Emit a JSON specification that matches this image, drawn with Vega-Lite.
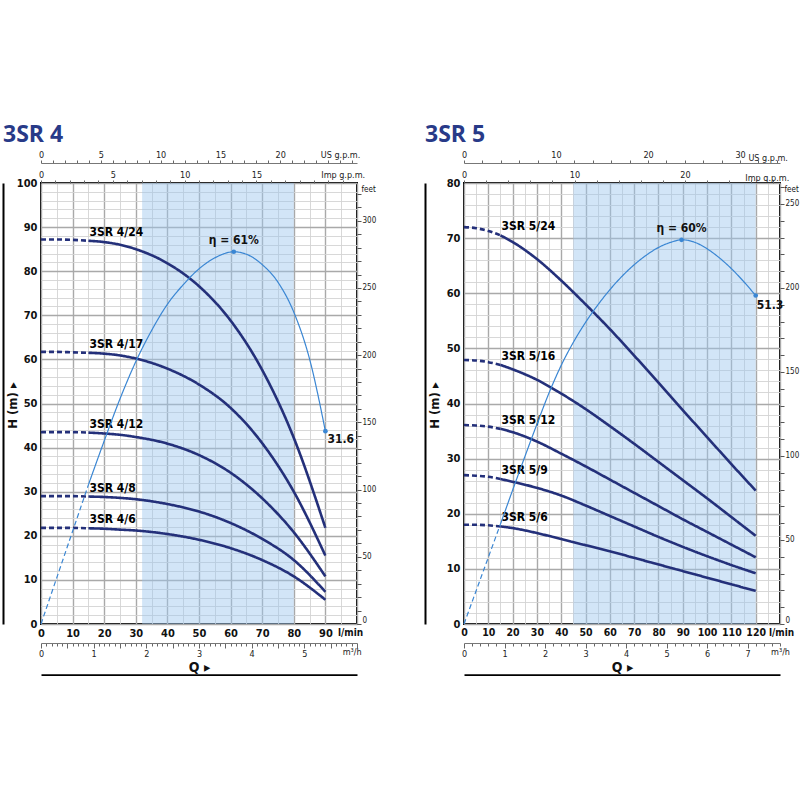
{
  "$schema": "https://vega.github.io/schema/vega-lite/v6.json",
  "padding": {"left": 2, "top": 123, "right": 0, "bottom": 0},
  "spacing": 47,
  "config": {
    "font": "DejaVu Sans Condensed, Liberation Sans, sans-serif",
    "view": {"stroke": "#000", "strokeWidth": 2},
    "axis": {"labelColor": "#111", "titleColor": "#111"}
  },
  "datasets": {
    "pumps4": [
      {"pump": "3SR 4/24", "seg": "dashed", "Q": 0, "H": 87.2},
      {"pump": "3SR 4/24", "seg": "dashed", "Q": 5, "H": 87.2},
      {"pump": "3SR 4/24", "seg": "dashed", "Q": 10, "H": 87.1},
      {"pump": "3SR 4/24", "seg": "dashed", "Q": 15, "H": 86.9},
      {"pump": "3SR 4/24", "seg": "solid", "Q": 15, "H": 86.9},
      {"pump": "3SR 4/24", "seg": "solid", "Q": 20, "H": 86.6},
      {"pump": "3SR 4/24", "seg": "solid", "Q": 25, "H": 86.0},
      {"pump": "3SR 4/24", "seg": "solid", "Q": 30, "H": 85.0},
      {"pump": "3SR 4/24", "seg": "solid", "Q": 40, "H": 81.8},
      {"pump": "3SR 4/24", "seg": "solid", "Q": 50, "H": 76.6},
      {"pump": "3SR 4/24", "seg": "solid", "Q": 60, "H": 68.8},
      {"pump": "3SR 4/24", "seg": "solid", "Q": 70, "H": 57.6},
      {"pump": "3SR 4/24", "seg": "solid", "Q": 80, "H": 42.2},
      {"pump": "3SR 4/24", "seg": "solid", "Q": 90, "H": 21.8},
      {"pump": "3SR 4/17", "seg": "dashed", "Q": 0, "H": 61.7},
      {"pump": "3SR 4/17", "seg": "dashed", "Q": 5, "H": 61.7},
      {"pump": "3SR 4/17", "seg": "dashed", "Q": 10, "H": 61.6},
      {"pump": "3SR 4/17", "seg": "dashed", "Q": 15, "H": 61.5},
      {"pump": "3SR 4/17", "seg": "solid", "Q": 15, "H": 61.5},
      {"pump": "3SR 4/17", "seg": "solid", "Q": 20, "H": 61.3},
      {"pump": "3SR 4/17", "seg": "solid", "Q": 25, "H": 60.9},
      {"pump": "3SR 4/17", "seg": "solid", "Q": 30, "H": 60.2},
      {"pump": "3SR 4/17", "seg": "solid", "Q": 40, "H": 57.9},
      {"pump": "3SR 4/17", "seg": "solid", "Q": 50, "H": 54.3},
      {"pump": "3SR 4/17", "seg": "solid", "Q": 60, "H": 49.0},
      {"pump": "3SR 4/17", "seg": "solid", "Q": 70, "H": 41.0},
      {"pump": "3SR 4/17", "seg": "solid", "Q": 80, "H": 30.0},
      {"pump": "3SR 4/17", "seg": "solid", "Q": 90, "H": 15.5},
      {"pump": "3SR 4/12", "seg": "dashed", "Q": 0, "H": 43.5},
      {"pump": "3SR 4/12", "seg": "dashed", "Q": 5, "H": 43.5},
      {"pump": "3SR 4/12", "seg": "dashed", "Q": 10, "H": 43.5},
      {"pump": "3SR 4/12", "seg": "dashed", "Q": 15, "H": 43.4},
      {"pump": "3SR 4/12", "seg": "solid", "Q": 15, "H": 43.4},
      {"pump": "3SR 4/12", "seg": "solid", "Q": 20, "H": 43.2},
      {"pump": "3SR 4/12", "seg": "solid", "Q": 25, "H": 42.9},
      {"pump": "3SR 4/12", "seg": "solid", "Q": 30, "H": 42.4},
      {"pump": "3SR 4/12", "seg": "solid", "Q": 40, "H": 40.9},
      {"pump": "3SR 4/12", "seg": "solid", "Q": 50, "H": 38.3},
      {"pump": "3SR 4/12", "seg": "solid", "Q": 60, "H": 34.3},
      {"pump": "3SR 4/12", "seg": "solid", "Q": 70, "H": 28.5},
      {"pump": "3SR 4/12", "seg": "solid", "Q": 80, "H": 20.8},
      {"pump": "3SR 4/12", "seg": "solid", "Q": 90, "H": 10.8},
      {"pump": "3SR 4/8", "seg": "dashed", "Q": 0, "H": 29.0},
      {"pump": "3SR 4/8", "seg": "dashed", "Q": 5, "H": 29.0},
      {"pump": "3SR 4/8", "seg": "dashed", "Q": 10, "H": 29.0},
      {"pump": "3SR 4/8", "seg": "dashed", "Q": 15, "H": 28.9},
      {"pump": "3SR 4/8", "seg": "solid", "Q": 15, "H": 28.9},
      {"pump": "3SR 4/8", "seg": "solid", "Q": 20, "H": 28.8},
      {"pump": "3SR 4/8", "seg": "solid", "Q": 25, "H": 28.6},
      {"pump": "3SR 4/8", "seg": "solid", "Q": 30, "H": 28.3},
      {"pump": "3SR 4/8", "seg": "solid", "Q": 40, "H": 27.2},
      {"pump": "3SR 4/8", "seg": "solid", "Q": 50, "H": 25.5},
      {"pump": "3SR 4/8", "seg": "solid", "Q": 60, "H": 22.9},
      {"pump": "3SR 4/8", "seg": "solid", "Q": 70, "H": 19.3},
      {"pump": "3SR 4/8", "seg": "solid", "Q": 80, "H": 14.5},
      {"pump": "3SR 4/8", "seg": "solid", "Q": 90, "H": 7.3},
      {"pump": "3SR 4/6", "seg": "dashed", "Q": 0, "H": 21.8},
      {"pump": "3SR 4/6", "seg": "dashed", "Q": 5, "H": 21.8},
      {"pump": "3SR 4/6", "seg": "dashed", "Q": 10, "H": 21.8},
      {"pump": "3SR 4/6", "seg": "dashed", "Q": 15, "H": 21.7},
      {"pump": "3SR 4/6", "seg": "solid", "Q": 15, "H": 21.7},
      {"pump": "3SR 4/6", "seg": "solid", "Q": 20, "H": 21.6},
      {"pump": "3SR 4/6", "seg": "solid", "Q": 25, "H": 21.4},
      {"pump": "3SR 4/6", "seg": "solid", "Q": 30, "H": 21.2},
      {"pump": "3SR 4/6", "seg": "solid", "Q": 40, "H": 20.4},
      {"pump": "3SR 4/6", "seg": "solid", "Q": 50, "H": 19.1},
      {"pump": "3SR 4/6", "seg": "solid", "Q": 60, "H": 17.2},
      {"pump": "3SR 4/6", "seg": "solid", "Q": 70, "H": 14.5},
      {"pump": "3SR 4/6", "seg": "solid", "Q": 80, "H": 10.8},
      {"pump": "3SR 4/6", "seg": "solid", "Q": 90, "H": 5.5}
    ],
    "eff4": [
      {"seg": "dashed", "Q": 0, "eta": 0},
      {"seg": "dashed", "Q": 5, "eta": 7.6},
      {"seg": "dashed", "Q": 10, "eta": 15.2},
      {"seg": "dashed", "Q": 15, "eta": 22.8},
      {"seg": "solid", "Q": 15, "eta": 22.8},
      {"seg": "solid", "Q": 20, "eta": 30.0},
      {"seg": "solid", "Q": 25, "eta": 36.9},
      {"seg": "solid", "Q": 30, "eta": 43.0},
      {"seg": "solid", "Q": 35, "eta": 48.1},
      {"seg": "solid", "Q": 40, "eta": 52.4},
      {"seg": "solid", "Q": 45, "eta": 55.6},
      {"seg": "solid", "Q": 50, "eta": 58.2},
      {"seg": "solid", "Q": 55, "eta": 60.0},
      {"seg": "solid", "Q": 61, "eta": 61.0, "note": "peak", "label": "η = 61%"},
      {"seg": "solid", "Q": 65, "eta": 60.6},
      {"seg": "solid", "Q": 70, "eta": 58.9},
      {"seg": "solid", "Q": 75, "eta": 56.0},
      {"seg": "solid", "Q": 80, "eta": 51.1},
      {"seg": "solid", "Q": 85, "eta": 43.4},
      {"seg": "solid", "Q": 90, "eta": 31.6, "note": "end", "label": "31.6"}
    ],
    "pumps5": [
      {"pump": "3SR 5/24", "seg": "dashed", "Q": 0, "H": 72.0},
      {"pump": "3SR 5/24", "seg": "dashed", "Q": 5, "H": 71.8},
      {"pump": "3SR 5/24", "seg": "dashed", "Q": 10, "H": 71.3},
      {"pump": "3SR 5/24", "seg": "dashed", "Q": 15, "H": 70.5},
      {"pump": "3SR 5/24", "seg": "solid", "Q": 15, "H": 70.5},
      {"pump": "3SR 5/24", "seg": "solid", "Q": 20, "H": 69.3},
      {"pump": "3SR 5/24", "seg": "solid", "Q": 30, "H": 66.2},
      {"pump": "3SR 5/24", "seg": "solid", "Q": 40, "H": 62.3},
      {"pump": "3SR 5/24", "seg": "solid", "Q": 50, "H": 58.0},
      {"pump": "3SR 5/24", "seg": "solid", "Q": 60, "H": 53.5},
      {"pump": "3SR 5/24", "seg": "solid", "Q": 70, "H": 48.7},
      {"pump": "3SR 5/24", "seg": "solid", "Q": 80, "H": 43.8},
      {"pump": "3SR 5/24", "seg": "solid", "Q": 90, "H": 38.8},
      {"pump": "3SR 5/24", "seg": "solid", "Q": 100, "H": 33.9},
      {"pump": "3SR 5/24", "seg": "solid", "Q": 110, "H": 29.0},
      {"pump": "3SR 5/24", "seg": "solid", "Q": 120, "H": 24.2},
      {"pump": "3SR 5/16", "seg": "dashed", "Q": 0, "H": 47.9},
      {"pump": "3SR 5/16", "seg": "dashed", "Q": 5, "H": 47.8},
      {"pump": "3SR 5/16", "seg": "dashed", "Q": 10, "H": 47.5},
      {"pump": "3SR 5/16", "seg": "dashed", "Q": 15, "H": 47.0},
      {"pump": "3SR 5/16", "seg": "solid", "Q": 15, "H": 47.0},
      {"pump": "3SR 5/16", "seg": "solid", "Q": 20, "H": 46.2},
      {"pump": "3SR 5/16", "seg": "solid", "Q": 30, "H": 44.3},
      {"pump": "3SR 5/16", "seg": "solid", "Q": 40, "H": 41.8},
      {"pump": "3SR 5/16", "seg": "solid", "Q": 50, "H": 39.0},
      {"pump": "3SR 5/16", "seg": "solid", "Q": 60, "H": 35.9},
      {"pump": "3SR 5/16", "seg": "solid", "Q": 70, "H": 32.7},
      {"pump": "3SR 5/16", "seg": "solid", "Q": 80, "H": 29.4},
      {"pump": "3SR 5/16", "seg": "solid", "Q": 90, "H": 26.1},
      {"pump": "3SR 5/16", "seg": "solid", "Q": 100, "H": 22.8},
      {"pump": "3SR 5/16", "seg": "solid", "Q": 110, "H": 19.4},
      {"pump": "3SR 5/16", "seg": "solid", "Q": 120, "H": 16.0},
      {"pump": "3SR 5/12", "seg": "dashed", "Q": 0, "H": 36.1},
      {"pump": "3SR 5/12", "seg": "dashed", "Q": 5, "H": 36.0},
      {"pump": "3SR 5/12", "seg": "dashed", "Q": 10, "H": 35.8},
      {"pump": "3SR 5/12", "seg": "dashed", "Q": 15, "H": 35.4},
      {"pump": "3SR 5/12", "seg": "solid", "Q": 15, "H": 35.4},
      {"pump": "3SR 5/12", "seg": "solid", "Q": 20, "H": 34.8},
      {"pump": "3SR 5/12", "seg": "solid", "Q": 30, "H": 33.1},
      {"pump": "3SR 5/12", "seg": "solid", "Q": 40, "H": 30.9},
      {"pump": "3SR 5/12", "seg": "solid", "Q": 50, "H": 28.6},
      {"pump": "3SR 5/12", "seg": "solid", "Q": 60, "H": 26.2},
      {"pump": "3SR 5/12", "seg": "solid", "Q": 70, "H": 23.8},
      {"pump": "3SR 5/12", "seg": "solid", "Q": 80, "H": 21.4},
      {"pump": "3SR 5/12", "seg": "solid", "Q": 90, "H": 19.0},
      {"pump": "3SR 5/12", "seg": "solid", "Q": 100, "H": 16.7},
      {"pump": "3SR 5/12", "seg": "solid", "Q": 110, "H": 14.4},
      {"pump": "3SR 5/12", "seg": "solid", "Q": 120, "H": 12.1},
      {"pump": "3SR 5/9", "seg": "dashed", "Q": 0, "H": 27.0},
      {"pump": "3SR 5/9", "seg": "dashed", "Q": 5, "H": 26.9},
      {"pump": "3SR 5/9", "seg": "dashed", "Q": 10, "H": 26.7},
      {"pump": "3SR 5/9", "seg": "dashed", "Q": 15, "H": 26.3},
      {"pump": "3SR 5/9", "seg": "solid", "Q": 15, "H": 26.3},
      {"pump": "3SR 5/9", "seg": "solid", "Q": 20, "H": 25.8},
      {"pump": "3SR 5/9", "seg": "solid", "Q": 30, "H": 24.7},
      {"pump": "3SR 5/9", "seg": "solid", "Q": 40, "H": 23.3},
      {"pump": "3SR 5/9", "seg": "solid", "Q": 50, "H": 21.5},
      {"pump": "3SR 5/9", "seg": "solid", "Q": 60, "H": 19.6},
      {"pump": "3SR 5/9", "seg": "solid", "Q": 70, "H": 17.7},
      {"pump": "3SR 5/9", "seg": "solid", "Q": 80, "H": 15.8},
      {"pump": "3SR 5/9", "seg": "solid", "Q": 90, "H": 14.0},
      {"pump": "3SR 5/9", "seg": "solid", "Q": 100, "H": 12.3},
      {"pump": "3SR 5/9", "seg": "solid", "Q": 110, "H": 10.7},
      {"pump": "3SR 5/9", "seg": "solid", "Q": 120, "H": 9.2},
      {"pump": "3SR 5/6", "seg": "dashed", "Q": 0, "H": 18.0},
      {"pump": "3SR 5/6", "seg": "dashed", "Q": 5, "H": 18.0},
      {"pump": "3SR 5/6", "seg": "dashed", "Q": 10, "H": 17.9},
      {"pump": "3SR 5/6", "seg": "dashed", "Q": 15, "H": 17.7},
      {"pump": "3SR 5/6", "seg": "solid", "Q": 15, "H": 17.7},
      {"pump": "3SR 5/6", "seg": "solid", "Q": 20, "H": 17.4},
      {"pump": "3SR 5/6", "seg": "solid", "Q": 30, "H": 16.5},
      {"pump": "3SR 5/6", "seg": "solid", "Q": 40, "H": 15.4},
      {"pump": "3SR 5/6", "seg": "solid", "Q": 50, "H": 14.3},
      {"pump": "3SR 5/6", "seg": "solid", "Q": 60, "H": 13.2},
      {"pump": "3SR 5/6", "seg": "solid", "Q": 70, "H": 12.0},
      {"pump": "3SR 5/6", "seg": "solid", "Q": 80, "H": 10.8},
      {"pump": "3SR 5/6", "seg": "solid", "Q": 90, "H": 9.6},
      {"pump": "3SR 5/6", "seg": "solid", "Q": 100, "H": 8.4},
      {"pump": "3SR 5/6", "seg": "solid", "Q": 110, "H": 7.2},
      {"pump": "3SR 5/6", "seg": "solid", "Q": 120, "H": 6.0}
    ],
    "eff5": [
      {"seg": "dashed", "Q": 0, "eta": 0},
      {"seg": "dashed", "Q": 5, "eta": 5.2},
      {"seg": "dashed", "Q": 10, "eta": 10.4},
      {"seg": "dashed", "Q": 15, "eta": 15.6},
      {"seg": "solid", "Q": 15, "eta": 15.6},
      {"seg": "solid", "Q": 20, "eta": 20.9},
      {"seg": "solid", "Q": 25, "eta": 26.1},
      {"seg": "solid", "Q": 30, "eta": 31.2},
      {"seg": "solid", "Q": 35, "eta": 36.1},
      {"seg": "solid", "Q": 40, "eta": 40.4},
      {"seg": "solid", "Q": 45, "eta": 44.0},
      {"seg": "solid", "Q": 50, "eta": 47.1},
      {"seg": "solid", "Q": 55, "eta": 49.8},
      {"seg": "solid", "Q": 60, "eta": 52.2},
      {"seg": "solid", "Q": 65, "eta": 54.3},
      {"seg": "solid", "Q": 70, "eta": 56.1},
      {"seg": "solid", "Q": 75, "eta": 57.6},
      {"seg": "solid", "Q": 80, "eta": 58.8},
      {"seg": "solid", "Q": 85, "eta": 59.6},
      {"seg": "solid", "Q": 89.5, "eta": 60.0, "note": "peak", "label": "η = 60%"},
      {"seg": "solid", "Q": 95, "eta": 59.6},
      {"seg": "solid", "Q": 100, "eta": 58.6},
      {"seg": "solid", "Q": 105, "eta": 57.2},
      {"seg": "solid", "Q": 110, "eta": 55.5},
      {"seg": "solid", "Q": 115, "eta": 53.5},
      {"seg": "solid", "Q": 120, "eta": 51.3, "note": "end", "label": "51.3"}
    ]
  },
  "hconcat": [
    {
      "title": {"text": "3SR 4", "anchor": "start", "frame": "bounds", "font": "Open Sans", "fontSize": 23, "fontWeight": "bold", "color": "#283a88", "offset": 3},
      "width": 316,
      "height": 441,
      "resolve": {"scale": {"x": "independent", "y": "independent"}},
      "layer": [
        {
          "mark": {"type": "point", "opacity": 0},
          "encoding": {
            "x": {
              "datum": 0, "type": "quantitative",
              "scale": {"domain": [0, 100], "nice": false, "zero": false},
              "axis": {
                "orient": "bottom", "title": null,
                "values": [0, 5, 10, 15, 20, 25, 30, 35, 40, 45, 50, 55, 60, 65, 70, 75, 80, 85, 90, 95, 100],
                "labelExpr": "datum.value % 10 == 0 ? (datum.value == 100 ? 'l/min' : datum.value + '') : ''",
                "grid": true,
                "gridColor": {"condition": {"test": "datum.value % 10 == 0", "value": "#a9a9a9"}, "value": "#d4d4d4"},
                "gridWidth": {"condition": {"test": "datum.value % 10 == 0", "value": 1.4}, "value": 0.9},
                "labelOffset": {"condition": {"test": "datum.value == 100", "value": -7}, "value": 0},
                "labelFontSize": {"condition": {"test": "datum.value == 100", "value": 10}, "value": 11},
                "ticks": false, "domain": false,
                "labelFontWeight": "bold", "labelPadding": 3,
                "labelFlush": false, "labelOverlap": false, "labelBound": false
              }
            },
            "y": {
              "datum": 0, "type": "quantitative",
              "scale": {"domain": [0, 100], "nice": false, "zero": false},
              "axis": {
                "orient": "left", "title": null,
                "values": [0, 2, 4, 6, 8, 10, 12, 14, 16, 18, 20, 22, 24, 26, 28, 30, 32, 34, 36, 38, 40, 42, 44, 46, 48, 50, 52, 54, 56, 58, 60, 62, 64, 66, 68, 70, 72, 74, 76, 78, 80, 82, 84, 86, 88, 90, 92, 94, 96, 98, 100],
                "labelExpr": "datum.value % 10 == 0 ? datum.value + '' : ''",
                "grid": true,
                "gridColor": {"condition": {"test": "datum.value % 10 == 0", "value": "#a9a9a9"}, "value": "#d4d4d4"},
                "gridWidth": {"condition": {"test": "datum.value % 10 == 0", "value": 1.4}, "value": 0.9},
                "ticks": false, "domain": false,
                "labelFontSize": 11, "labelFontWeight": "bold", "labelPadding": 4,
                "labelOverlap": false, "labelBound": false
              }
            }
          }
        },
        {
          "layer": [
            {
              "data": {"values": [{"from": 32, "to": 80}]},
              "mark": {"type": "rect", "color": "#9cc6ee", "opacity": 0.45},
              "encoding": {
                "x": {"field": "from", "type": "quantitative", "scale": {"domain": [0, 100], "nice": false, "zero": false}, "axis": null},
                "x2": {"field": "to"}
              }
            },
            {
              "data": {"name": "pumps4"},
              "mark": {"type": "line", "color": "#24307a", "strokeWidth": 2.6, "interpolate": "monotone"},
              "encoding": {
                "x": {"field": "Q", "type": "quantitative", "scale": {"domain": [0, 100], "nice": false, "zero": false}, "axis": null},
                "y": {"field": "H", "type": "quantitative", "scale": {"domain": [0, 100], "nice": false}, "axis": null},
                "detail": {"field": "pump"},
                "strokeDash": {"field": "seg", "type": "nominal", "scale": {"domain": ["solid", "dashed"], "range": [[1, 0], [5, 3]]}, "legend": null}
              }
            },
            {
              "data": {"name": "pumps4"},
              "transform": [{"filter": "datum.Q == 15 && datum.seg == 'solid'"}],
              "mark": {"type": "text", "align": "left", "baseline": "bottom", "dx": 1, "dy": -2, "fontSize": 12, "fontWeight": "bold", "color": "#000"},
              "encoding": {
                "x": {"field": "Q", "type": "quantitative", "axis": null},
                "y": {"field": "H", "type": "quantitative", "axis": null},
                "text": {"field": "pump"}
              }
            }
          ]
        },
        {
          "data": {"name": "eff4"},
          "encoding": {
            "x": {"field": "Q", "type": "quantitative", "scale": {"domain": [0, 100], "nice": false, "zero": false}, "axis": null},
            "y": {"field": "eta", "type": "quantitative", "scale": {"domain": [0, 72.27], "nice": false}, "axis": null}
          },
          "layer": [
            {
              "mark": {"type": "line", "color": "#3a86d3", "strokeWidth": 1.2, "interpolate": "monotone"},
              "encoding": {"strokeDash": {"field": "seg", "type": "nominal", "scale": {"domain": ["solid", "dashed"], "range": [[1, 0], [3, 3]]}, "legend": null}}
            },
            {
              "transform": [{"filter": "datum.note != null"}],
              "mark": {"type": "circle", "color": "#3a86d3", "size": 22, "opacity": 1}
            },
            {
              "transform": [{"filter": "datum.note == 'peak'"}],
              "mark": {"type": "text", "baseline": "bottom", "dy": -5, "fontSize": 12, "fontWeight": "bold", "color": "#111"},
              "encoding": {"text": {"field": "label"}}
            },
            {
              "transform": [{"filter": "datum.note == 'end'"}],
              "mark": {"type": "text", "align": "left", "baseline": "middle", "dx": 2, "dy": 8, "fontSize": 12, "fontWeight": "bold", "color": "#111"},
              "encoding": {"text": {"field": "label"}}
            }
          ]
        },
        {
          "mark": {"type": "point", "opacity": 0},
          "encoding": {
            "y": {"datum": 0, "type": "quantitative", "scale": {"domain": [0, 1]}, "axis": null},
            "x": {
              "datum": 0, "type": "quantitative",
              "scale": {"domain": [0, 26.417], "nice": false, "zero": false},
              "axis": {
                "orient": "top", "offset": 20, "title": null,
                "values": [0, 1, 2, 3, 4, 5, 6, 7, 8, 9, 10, 11, 12, 13, 14, 15, 16, 17, 18, 19, 20, 21, 22, 23, 24, 25, 26],
                "labelExpr": "datum.value == 25 ? 'US g.p.m.' : (datum.value % 5 == 0 ? datum.value + '' : '')",
                "grid": false, "tickSize": 3, "tickColor": "#666", "domainColor": "#777", "domainWidth": 1,
                "labelFontSize": 9, "labelPadding": 1, "labelColor": "#222",
                "labelFlush": false, "labelOverlap": false, "labelBound": false
              }
            }
          }
        },
        {
          "mark": {"type": "point", "opacity": 0},
          "encoding": {
            "y": {"datum": 0, "type": "quantitative", "scale": {"domain": [0, 1]}, "axis": null},
            "x": {
              "datum": 0, "type": "quantitative",
              "scale": {"domain": [0, 21.997], "nice": false, "zero": false},
              "axis": {
                "orient": "top", "offset": 0, "title": null,
                "values": [0, 1, 2, 3, 4, 5, 6, 7, 8, 9, 10, 11, 12, 13, 14, 15, 16, 17, 18, 19, 20, 21],
                "labelExpr": "datum.value == 21 ? 'Imp g.p.m.' : (datum.value % 5 == 0 && datum.value < 20 ? datum.value + '' : '')",
                "grid": false, "tickSize": 3, "tickColor": "#666", "domain": false,
                "labelFontSize": 9, "labelPadding": 1, "labelColor": "#222",
                "labelFlush": false, "labelOverlap": false, "labelBound": false
              }
            }
          }
        },
        {
          "mark": {"type": "point", "opacity": 0},
          "encoding": {
            "y": {"datum": 0, "type": "quantitative", "scale": {"domain": [0, 1]}, "axis": null},
            "x": {
              "datum": 0, "type": "quantitative",
              "scale": {"domain": [0, 6], "nice": false, "zero": false},
              "axis": {
                "orient": "bottom", "offset": 19, "title": null,
                "values": [0, 0.1, 0.2, 0.3, 0.4, 0.5, 0.6, 0.7, 0.8, 0.9, 1, 1.1, 1.2, 1.3, 1.4, 1.5, 1.6, 1.7, 1.8, 1.9, 2, 2.1, 2.2, 2.3, 2.4, 2.5, 2.6, 2.7, 2.8, 2.9, 3, 3.1, 3.2, 3.3, 3.4, 3.5, 3.6, 3.7, 3.8, 3.9, 4, 4.1, 4.2, 4.3, 4.4, 4.5, 4.6, 4.7, 4.8, 4.9, 5, 5.1, 5.2, 5.3, 5.4, 5.5, 5.6, 5.7, 5.8, 5.9, 6],
                "labelExpr": "datum.value == 5.9 ? 'm³/h' : (datum.value == round(datum.value) && datum.value <= 5 ? datum.value + '' : '')",
                "grid": false,
                "tickSize": {"condition": {"test": "abs(datum.value * 2 - round(datum.value * 2)) < 0.01", "value": 5}, "value": 3},
                "tickColor": "#666", "domainColor": "#777", "domainWidth": 1,
                "labelFontSize": 9, "labelPadding": 1, "labelColor": "#222",
                "labelFlush": false, "labelOverlap": false, "labelBound": false
              }
            }
          }
        },
        {
          "mark": {"type": "point", "opacity": 0},
          "encoding": {
            "y": {"datum": 0, "type": "quantitative", "scale": {"domain": [0, 1]}, "axis": null},
            "x": {
              "datum": 0, "type": "quantitative",
              "scale": {"domain": [0, 1]},
              "axis": {
                "orient": "bottom", "offset": 51, "labels": false, "ticks": false, "grid": false,
                "domainColor": "#000", "domainWidth": 2.5,
                "title": "Q  ▸", "titleX": 158, "titleY": -8, "titleBaseline": "middle",
                "titleFontSize": 14, "titleFontWeight": "bold"
              }
            }
          }
        },
        {
          "mark": {"type": "point", "opacity": 0},
          "encoding": {
            "x": {"datum": 0, "type": "quantitative", "scale": {"domain": [0, 1]}, "axis": null},
            "y": {
              "datum": 0, "type": "quantitative",
              "scale": {"domain": [0, 328.08], "nice": false, "zero": false},
              "axis": {
                "orient": "right",
                "values": [0, 10, 20, 30, 40, 50, 60, 70, 80, 90, 100, 110, 120, 130, 140, 150, 160, 170, 180, 190, 200, 210, 220, 230, 240, 250, 260, 270, 280, 290, 300, 310, 320],
                "labelExpr": "datum.value % 50 == 0 ? datum.value + '' : ''",
                "labelBaseline": {"condition": {"test": "datum.value == 0", "value": "bottom"}, "value": "middle"},
                "grid": false, "tickSize": 4, "tickColor": "#555", "domain": false,
                "labelFontSize": 8, "labelPadding": 1, "labelColor": "#222",
                "labelOverlap": false, "labelBound": false,
                "title": "feet", "titleAngle": 0, "titleX": 4, "titleY": 6, "titleAlign": "left", "titleBaseline": "middle",
                "titleFontWeight": "normal", "titleFontSize": 8
              }
            }
          }
        },
        {
          "mark": {"type": "point", "opacity": 0},
          "encoding": {
            "x": {"datum": 0, "type": "quantitative", "scale": {"domain": [0, 1]}, "axis": null},
            "y": {
              "datum": 0, "type": "quantitative",
              "scale": {"domain": [0, 1]},
              "axis": {
                "orient": "left", "offset": 38, "labels": false, "ticks": false, "grid": false,
                "domainColor": "#000", "domainWidth": 2,
                "title": "H (m)  ▸", "titleX": 9, "titleY": 222, "titleBaseline": "middle",
                "titleFontSize": 13, "titleFontWeight": "bold"
              }
            }
          }
        }
      ]
    },
    {
      "title": {"text": "3SR 5", "anchor": "start", "frame": "bounds", "font": "Open Sans", "fontSize": 23, "fontWeight": "bold", "color": "#283a88", "offset": 3},
      "width": 316,
      "height": 441,
      "resolve": {"scale": {"x": "independent", "y": "independent"}},
      "layer": [
        {
          "mark": {"type": "point", "opacity": 0},
          "encoding": {
            "x": {
              "datum": 0, "type": "quantitative",
              "scale": {"domain": [0, 130], "nice": false, "zero": false},
              "axis": {
                "orient": "bottom", "title": null,
                "values": [0, 5, 10, 15, 20, 25, 30, 35, 40, 45, 50, 55, 60, 65, 70, 75, 80, 85, 90, 95, 100, 105, 110, 115, 120, 125, 130],
                "labelExpr": "datum.value % 10 == 0 ? (datum.value == 130 ? 'l/min' : datum.value + '') : ''",
                "grid": true,
                "gridColor": {"condition": {"test": "datum.value % 10 == 0", "value": "#a9a9a9"}, "value": "#d4d4d4"},
                "gridWidth": {"condition": {"test": "datum.value % 10 == 0", "value": 1.4}, "value": 0.9},
                "labelOffset": {"condition": {"test": "datum.value == 130", "value": 1}, "value": 0},
                "labelFontSize": {"condition": {"test": "datum.value == 130", "value": 10}, "value": 10.5},
                "ticks": false, "domain": false,
                "labelFontWeight": "bold", "labelPadding": 3,
                "labelFlush": false, "labelOverlap": false, "labelBound": false
              }
            },
            "y": {
              "datum": 0, "type": "quantitative",
              "scale": {"domain": [0, 80], "nice": false, "zero": false},
              "axis": {
                "orient": "left", "title": null,
                "values": [0, 2, 4, 6, 8, 10, 12, 14, 16, 18, 20, 22, 24, 26, 28, 30, 32, 34, 36, 38, 40, 42, 44, 46, 48, 50, 52, 54, 56, 58, 60, 62, 64, 66, 68, 70, 72, 74, 76, 78, 80],
                "labelExpr": "datum.value % 10 == 0 ? datum.value + '' : ''",
                "grid": true,
                "gridColor": {"condition": {"test": "datum.value % 10 == 0", "value": "#a9a9a9"}, "value": "#d4d4d4"},
                "gridWidth": {"condition": {"test": "datum.value % 10 == 0", "value": 1.4}, "value": 0.9},
                "ticks": false, "domain": false,
                "labelFontSize": 11, "labelFontWeight": "bold", "labelPadding": 4,
                "labelOverlap": false, "labelBound": false
              }
            }
          }
        },
        {
          "layer": [
            {
              "data": {"values": [{"from": 45, "to": 120}]},
              "mark": {"type": "rect", "color": "#9cc6ee", "opacity": 0.45},
              "encoding": {
                "x": {"field": "from", "type": "quantitative", "scale": {"domain": [0, 130], "nice": false, "zero": false}, "axis": null},
                "x2": {"field": "to"}
              }
            },
            {
              "data": {"name": "pumps5"},
              "mark": {"type": "line", "color": "#24307a", "strokeWidth": 2.6, "interpolate": "monotone"},
              "encoding": {
                "x": {"field": "Q", "type": "quantitative", "scale": {"domain": [0, 130], "nice": false, "zero": false}, "axis": null},
                "y": {"field": "H", "type": "quantitative", "scale": {"domain": [0, 80], "nice": false}, "axis": null},
                "detail": {"field": "pump"},
                "strokeDash": {"field": "seg", "type": "nominal", "scale": {"domain": ["solid", "dashed"], "range": [[1, 0], [5, 3]]}, "legend": null}
              }
            },
            {
              "data": {"name": "pumps5"},
              "transform": [{"filter": "datum.Q == 15 && datum.seg == 'solid'"}],
              "mark": {"type": "text", "align": "left", "baseline": "bottom", "dx": 1, "dy": -2, "fontSize": 12, "fontWeight": "bold", "color": "#000"},
              "encoding": {
                "x": {"field": "Q", "type": "quantitative", "axis": null},
                "y": {"field": "H", "type": "quantitative", "axis": null},
                "text": {"field": "pump"}
              }
            }
          ]
        },
        {
          "data": {"name": "eff5"},
          "encoding": {
            "x": {"field": "Q", "type": "quantitative", "scale": {"domain": [0, 130], "nice": false, "zero": false}, "axis": null},
            "y": {"field": "eta", "type": "quantitative", "scale": {"domain": [0, 68.87], "nice": false}, "axis": null}
          },
          "layer": [
            {
              "mark": {"type": "line", "color": "#3a86d3", "strokeWidth": 1.2, "interpolate": "monotone"},
              "encoding": {"strokeDash": {"field": "seg", "type": "nominal", "scale": {"domain": ["solid", "dashed"], "range": [[1, 0], [3, 3]]}, "legend": null}}
            },
            {
              "transform": [{"filter": "datum.note != null"}],
              "mark": {"type": "circle", "color": "#3a86d3", "size": 22, "opacity": 1}
            },
            {
              "transform": [{"filter": "datum.note == 'peak'"}],
              "mark": {"type": "text", "baseline": "bottom", "dy": -5, "fontSize": 12, "fontWeight": "bold", "color": "#111"},
              "encoding": {"text": {"field": "label"}}
            },
            {
              "transform": [{"filter": "datum.note == 'end'"}],
              "mark": {"type": "text", "align": "left", "baseline": "middle", "dx": 1, "dy": 9, "fontSize": 12, "fontWeight": "bold", "color": "#111"},
              "encoding": {"text": {"field": "label"}}
            }
          ]
        },
        {
          "mark": {"type": "point", "opacity": 0},
          "encoding": {
            "y": {"datum": 0, "type": "quantitative", "scale": {"domain": [0, 1]}, "axis": null},
            "x": {
              "datum": 0, "type": "quantitative",
              "scale": {"domain": [0, 34.342], "nice": false, "zero": false},
              "axis": {
                "orient": "top", "offset": 20, "title": null,
                "values": [0, 2, 4, 6, 8, 10, 12, 14, 16, 18, 20, 22, 24, 26, 28, 30, 32, 33, 34],
                "labelExpr": "datum.value == 33 ? 'US g.p.m.' : (datum.value % 10 == 0 ? datum.value + '' : '')",
                "grid": false,
                "tickSize": {"condition": {"test": "datum.value == 33", "value": 0}, "value": 3},
                "tickColor": "#666", "domainColor": "#777", "domainWidth": 1,
                "labelFontSize": 9, "labelPadding": 1, "labelColor": "#222",
                "labelFlush": false, "labelOverlap": false, "labelBound": false
              }
            }
          }
        },
        {
          "mark": {"type": "point", "opacity": 0},
          "encoding": {
            "y": {"datum": 0, "type": "quantitative", "scale": {"domain": [0, 1]}, "axis": null},
            "x": {
              "datum": 0, "type": "quantitative",
              "scale": {"domain": [0, 28.596], "nice": false, "zero": false},
              "axis": {
                "orient": "top", "offset": 0, "title": null,
                "values": [0, 2, 4, 6, 8, 10, 12, 14, 16, 18, 20, 22, 24, 26, 27.4, 28],
                "labelExpr": "datum.value == 27.4 ? 'Imp g.p.m.' : (datum.value % 10 == 0 ? datum.value + '' : '')",
                "grid": false,
                "tickSize": {"condition": {"test": "datum.value == 27.4", "value": 0}, "value": 3},
                "tickColor": "#666", "domain": false,
                "labelFontSize": 9, "labelPadding": 1, "labelColor": "#222",
                "labelFlush": false, "labelOverlap": false, "labelBound": false
              }
            }
          }
        },
        {
          "mark": {"type": "point", "opacity": 0},
          "encoding": {
            "y": {"datum": 0, "type": "quantitative", "scale": {"domain": [0, 1]}, "axis": null},
            "x": {
              "datum": 0, "type": "quantitative",
              "scale": {"domain": [0, 7.8], "nice": false, "zero": false},
              "axis": {
                "orient": "bottom", "offset": 19, "title": null,
                "values": [0, 0.2, 0.4, 0.6, 0.8, 1, 1.2, 1.4, 1.6, 1.8, 2, 2.2, 2.4, 2.6, 2.8, 3, 3.2, 3.4, 3.6, 3.8, 4, 4.2, 4.4, 4.6, 4.8, 5, 5.2, 5.4, 5.6, 5.8, 6, 6.2, 6.4, 6.6, 6.8, 7, 7.2, 7.4, 7.6, 7.8],
                "labelExpr": "datum.value == 7.8 ? 'm³/h' : (datum.value == round(datum.value) ? datum.value + '' : '')",
                "grid": false,
                "tickSize": {"condition": {"test": "datum.value == round(datum.value)", "value": 5}, "value": 3},
                "tickColor": "#666", "domainColor": "#777", "domainWidth": 1,
                "labelFontSize": 9, "labelPadding": 1, "labelColor": "#222",
                "labelFlush": false, "labelOverlap": false, "labelBound": false
              }
            }
          }
        },
        {
          "mark": {"type": "point", "opacity": 0},
          "encoding": {
            "y": {"datum": 0, "type": "quantitative", "scale": {"domain": [0, 1]}, "axis": null},
            "x": {
              "datum": 0, "type": "quantitative",
              "scale": {"domain": [0, 1]},
              "axis": {
                "orient": "bottom", "offset": 51, "labels": false, "ticks": false, "grid": false,
                "domainColor": "#000", "domainWidth": 2.5,
                "title": "Q  ▸", "titleX": 158, "titleY": -8, "titleBaseline": "middle",
                "titleFontSize": 14, "titleFontWeight": "bold"
              }
            }
          }
        },
        {
          "mark": {"type": "point", "opacity": 0},
          "encoding": {
            "x": {"datum": 0, "type": "quantitative", "scale": {"domain": [0, 1]}, "axis": null},
            "y": {
              "datum": 0, "type": "quantitative",
              "scale": {"domain": [0, 262.47], "nice": false, "zero": false},
              "axis": {
                "orient": "right",
                "values": [0, 10, 20, 30, 40, 50, 60, 70, 80, 90, 100, 110, 120, 130, 140, 150, 160, 170, 180, 190, 200, 210, 220, 230, 240, 250, 260],
                "labelExpr": "datum.value % 50 == 0 ? datum.value + '' : ''",
                "labelBaseline": {"condition": {"test": "datum.value == 0", "value": "bottom"}, "value": "middle"},
                "grid": false, "tickSize": 4, "tickColor": "#555", "domain": false,
                "labelFontSize": 8, "labelPadding": 1, "labelColor": "#222",
                "labelOverlap": false, "labelBound": false,
                "title": "feet", "titleAngle": 0, "titleX": 4, "titleY": 6, "titleAlign": "left", "titleBaseline": "middle",
                "titleFontWeight": "normal", "titleFontSize": 8
              }
            }
          }
        },
        {
          "mark": {"type": "point", "opacity": 0},
          "encoding": {
            "x": {"datum": 0, "type": "quantitative", "scale": {"domain": [0, 1]}, "axis": null},
            "y": {
              "datum": 0, "type": "quantitative",
              "scale": {"domain": [0, 1]},
              "axis": {
                "orient": "left", "offset": 39, "labels": false, "ticks": false, "grid": false,
                "domainColor": "#000", "domainWidth": 2,
                "title": "H (m)  ▸", "titleX": 9, "titleY": 222, "titleBaseline": "middle",
                "titleFontSize": 13, "titleFontWeight": "bold"
              }
            }
          }
        }
      ]
    }
  ]
}
